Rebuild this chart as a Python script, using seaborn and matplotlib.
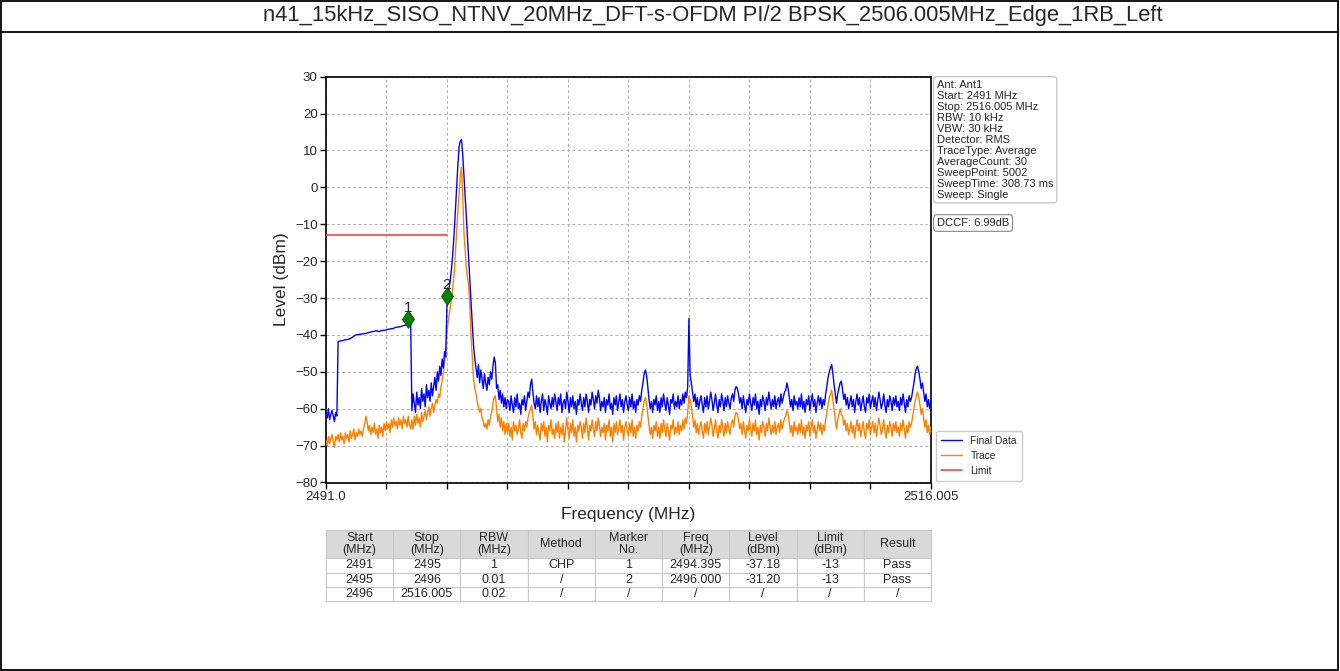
import numpy as np
import pandas as pd
import matplotlib
matplotlib.use("Agg")
import matplotlib.pyplot as plt
from matplotlib.transforms import offset_copy
from matplotlib.patches import Rectangle
from matplotlib.lines import Line2D
import seaborn as sns

# ---------------------------------------------------------------- data
title = "n41_15kHz_SISO_NTNV_20MHz_DFT-s-OFDM PI/2 BPSK_2506.005MHz_Edge_1RB_Left"

# sweep frequencies (MHz): 0.05 MHz steps plus the stop frequency
freq = list(np.round(np.arange(2491.0, 2516.0 + 1e-6, 0.05), 2)) + [2516.005]

# "Final Data" trace (dBm)
final_data = (
    # 2491.00 - 2491.45
    [-61, -62.5, -60, -63, -61.5, -60.5, -62, -63.5, -61, -62]
    # 2491.50 - 2494.50 (channel power part)
    + [-41.8, -41.7, -41.6, -41.6, -41.5, -41.4, -41.3, -41.3, -41.2, -41.1,
       -41.0, -40.8, -40.6, -40.3, -40.1, -40.0, -39.9, -39.9, -39.8, -39.8,
       -39.7, -39.7, -39.6, -39.6, -39.5, -39.4, -39.3, -39.2, -39.1, -39.1,
       -39.0, -38.9, -38.9, -39.0, -39.1, -38.9, -38.8, -38.8, -38.7, -38.7,
       -38.6, -38.5, -38.4, -38.4, -38.3, -38.3, -38.2, -38.0, -37.9, -37.9,
       -37.8, -37.8, -37.7, -37.6, -37.5, -37.4, -37.3, -37.3, -37.2, -37.1,
       -37.0]
    # 2494.55 - 2495.95
    + [-60.5, -56, -58.5, -61, -55.5, -59, -57, -60, -54.5, -58, -56, -59.5,
       -53.5, -57, -55, -58, -53, -56.5, -54, -51.5, -55, -50, -52.5, -48.5,
       -51, -46.5, -49, -44.5, -46]
    # 2496.00 - 2497.20 (carrier)
    + [-31.2, -29, -27, -24.5, -21, -17, -12, -6, 0, 6, 11, 12.5, 13, 9, 3.5,
       -2.5, -8, -14, -20, -26, -32, -37.5, -43, -46.5, -49]
    # 2497.25 - 2498.50
    + [-51.5, -48, -53, -49.5, -52, -54.5, -50.5, -53, -55, -51.5, -53.5, -50,
       -52, -48.5, -46, -47.5, -54.5, -53.5, -57.5, -55, -58.5, -56, -59.5,
       -57, -60, -57.5]
    # 2498.55 - 2516.00, 1 MHz per row
    + [-58, -60.5, -56.5, -59, -61, -57, -59.5, -56, -60, -58.5,
       -61.5, -57.5, -59, -56.5, -60.5, -58, -55.5, -57, -53.5, -52]
    + [-55.5, -58.5, -60, -56.5, -59.5, -57, -61, -58, -56, -60.5,
       -57.5, -59, -61.5, -56.5, -58.5, -60, -57, -59.5, -56, -58]
    + [-60.5, -57, -59, -56, -61, -58.5, -57.5, -60, -55.5, -58,
       -61, -57, -59.5, -56.5, -60, -58, -61.5, -57.5, -59, -56]
    + [-58.5, -60.5, -57, -59.5, -56, -58, -61, -57.5, -59, -55.5,
       -57.5, -60, -56.5, -58.5, -55, -57, -60.5, -58, -59.5, -57]
    + [-61, -57.5, -59, -56, -60, -58.5, -61.5, -57, -59, -56.5,
       -60.5, -58, -56, -59.5, -57.5, -61, -58, -56.5, -59, -60.5]
    + [-57, -59.5, -56, -60, -58, -61, -57.5, -59, -56.5, -58,
       -55, -53, -50.5, -49.5, -51, -54, -57.5, -60, -58, -61]
    + [-57.5, -59, -56.5, -60.5, -58, -61, -57, -59.5, -56, -58.5,
       -60.5, -57, -59, -61.5, -57.5, -58.5, -56, -60, -58, -59.5]
    + [-56.5, -60, -57.5, -59, -56, -58.5, -55.5, -57, -54, -35.5,
       -51, -53, -55.5, -58, -56, -59.5, -57, -60, -58, -56.5]
    + [-59, -61, -57, -59.5, -56.5, -60, -58, -55.5, -57.5, -60.5,
       -58.5, -56, -59, -61, -57.5, -59.5, -56, -58, -60.5, -57]
    + [-59.5, -56.5, -58.5, -60, -57, -56, -58, -55, -54, -54.5,
       -56, -58.5, -57, -60, -56.5, -59, -61, -57.5, -59, -56]
    + [-58.5, -60.5, -57, -59, -56, -60, -58, -61.5, -57.5, -59.5,
       -56.5, -58, -60.5, -57, -59, -55.5, -58, -60, -57.5, -59.5]
    + [-56.5, -60, -58, -57, -59.5, -56, -58.5, -57, -55.5, -55,
       -53, -54.5, -57, -59.5, -57.5, -60.5, -56.5, -59, -58, -60]
    + [-57, -59.5, -56, -60, -58, -61, -57.5, -59, -56.5, -60.5,
       -58, -56, -59.5, -57.5, -61, -58.5, -56.5, -59, -57, -60]
    + [-57.5, -59, -56, -54, -51.5, -50, -49, -48, -50.5, -53.5,
       -56, -58.5, -56, -54.5, -53, -52.5, -55, -57.5, -56, -59]
    + [-57, -60, -58.5, -56.5, -59.5, -57.5, -61, -58, -56, -59,
       -57, -60.5, -58.5, -56.5, -59.5, -61, -57, -58.5, -56, -60]
    + [-58, -56.5, -59.5, -57, -60.5, -58, -55.5, -57.5, -60, -58.5,
       -56, -59, -61, -57.5, -59.5, -56.5, -58, -60.5, -57, -59]
    + [-56.5, -59.5, -58, -60.5, -57, -59, -56, -58.5, -61, -57.5,
       -59.5, -56.5, -58, -57, -55, -53, -50.5, -49, -48.5, -50]
    + [-52, -54.5, -53, -55.5, -58, -56, -59.5, -57.5, -60, -58]
    # 2516.005
    + [-59]
)

# "Trace" (dBm)
trace = (
    # 2491.00 - 2494.50
    [-68.5, -70, -67.5, -69.5, -68, -67, -69, -70.5, -67.5, -68.5]
    + [-67, -69, -66.5, -68.5, -67.5, -69.5, -66.5, -68, -67, -69]
    + [-66, -68, -67, -65.5, -68.5, -66.5, -67.5, -65.5, -67, -66]
    + [-67.5, -65.5, -64, -62, -63.5, -66, -64.5, -67, -65, -66.5]
    + [-64, -67, -65.5, -68, -64.5, -66.5, -65, -67.5, -64, -66]
    + [-63.5, -65.5, -64, -66.5, -63, -65, -62.5, -64.5, -63.5, -65.5]
    + [-62.5, -64.5, -63, -65.5, -62, -64, -63, -65, -62, -64.5]
    + [-65.5]
    # 2494.55 - 2495.95
    + [-63, -65.5, -62, -64.5, -61.5, -64, -62.5, -65, -61, -63.5, -62, -60.5,
       -63, -61, -59.5, -62, -60, -58.5, -61, -59, -57.5, -58.5, -56, -57,
       -54, -52.5, -50, -47.5, -44]
    # 2496.00 - 2497.20 (carrier)
    + [-39, -36.5, -34, -32, -30, -26.5, -23, -17.5, -12, -6.5, -2, 3, 5.5, -2,
       -12, -17, -22, -24.5, -27, -33, -41, -46.5, -52, -54.5, -56]
    # 2497.25 - 2498.50
    + [-58, -59.5, -61, -60, -62.5, -63.5, -65, -64, -65.5, -63, -64.5, -62,
       -61, -58.5, -57, -56.5, -60, -63.5, -61.5, -65, -62.5, -66, -63.5, -67,
       -64, -66.5]
    # 2498.55 - 2516.00, 1 MHz per row
    + [-64, -67.5, -65, -68.5, -63.5, -66, -64.5, -67, -65.5, -63,
       -66.5, -68, -64, -66, -63.5, -65, -62.5, -61, -60, -59]
    + [-62, -65.5, -63.5, -67, -64.5, -66.5, -68.5, -64, -66, -63.5,
       -67.5, -65, -69, -64.5, -66, -63, -67, -65.5, -68, -64]
    + [-66.5, -63.5, -68, -65, -67, -64, -69, -66, -62.5, -65.5,
       -68, -64, -66.5, -63, -67.5, -65, -69, -64.5, -66, -63.5]
    + [-65, -68, -64, -66.5, -62.5, -65, -68.5, -64.5, -66, -63,
       -65.5, -67.5, -63.5, -66, -62.5, -64.5, -67.5, -65, -66.5, -64]
    + [-68.5, -64.5, -66, -63, -67.5, -65, -69, -64, -66.5, -63.5,
       -67, -65.5, -63, -66.5, -64.5, -68.5, -65, -63.5, -66, -67.5]
    + [-64, -66.5, -63, -67.5, -65, -68, -64.5, -66, -63.5, -65,
       -62, -60, -58, -57, -58.5, -61.5, -64.5, -67, -65, -68]
    + [-64.5, -66, -63.5, -67.5, -65, -68, -64, -66.5, -63, -65.5,
       -67.5, -64, -66, -68.5, -64.5, -65.5, -63, -67, -65, -66.5]
    + [-63.5, -67, -64.5, -66, -63, -65.5, -62.5, -64, -61, -56.5,
       -57.5, -59.5, -62, -65, -63, -66.5, -64, -67, -65, -63.5]
    + [-66, -68, -64, -66.5, -63.5, -67, -65, -62.5, -64.5, -67.5,
       -65.5, -63, -66, -68, -64.5, -66.5, -63, -65, -67.5, -64]
    + [-66.5, -63.5, -65.5, -67, -64, -63, -65, -62, -61, -61.5,
       -63, -65.5, -64, -67, -63.5, -66, -68, -64.5, -66, -63]
    + [-65.5, -67.5, -64, -66, -63, -67, -65, -68.5, -64.5, -66.5,
       -63.5, -65, -67.5, -64, -66, -62.5, -65, -67, -64.5, -66.5]
    + [-63.5, -67, -65, -64, -66.5, -63, -65.5, -64, -62.5, -62,
       -60.5, -61.5, -64, -66.5, -64.5, -67.5, -63.5, -66, -65, -67]
    + [-64, -66.5, -63, -67, -65, -68, -64.5, -66, -63.5, -67.5,
       -65, -63, -66.5, -64.5, -68, -65.5, -63.5, -66, -64, -67]
    + [-64.5, -66, -63, -61, -59, -57, -56, -55, -57.5, -60.5,
       -63, -65.5, -63, -61.5, -60, -61.5, -62, -64.5, -63, -66]
    + [-64, -67, -65.5, -63.5, -66.5, -64.5, -68, -65, -63, -66,
       -64, -67.5, -65.5, -63.5, -66.5, -68, -64, -65.5, -63, -67]
    + [-65, -63.5, -66.5, -64, -67.5, -65, -62.5, -64.5, -67, -65.5,
       -63, -66, -68, -64.5, -66.5, -63.5, -65, -67.5, -64, -66]
    + [-63.5, -66.5, -65, -67.5, -64, -66, -63, -65.5, -68, -64.5,
       -66.5, -63.5, -65, -64, -62, -60, -58, -56.5, -55.5, -57]
    + [-59, -61.5, -60, -62.5, -65, -63, -66.5, -64.5, -67, -65]
    # 2516.005
    + [-66]
)

assert len(freq) == len(final_data) == len(trace), (len(freq), len(final_data), len(trace))

# limit line
limit_freq = [2491.0, 2496.0]
limit_level = [-13, -13]

# markers
marker_no = [1, 2]
marker_freq = [2494.395, 2496.000]
marker_level = [-37.18, -31.20]

# axis ticks
x_ticks = [2491.0, 2493.5, 2496.0, 2498.5, 2501.0, 2503.5, 2506.0, 2508.5,
           2511.0, 2513.5, 2516.005]
x_tick_labels = ["2491.0"] + [""] * 9 + ["2516.005"]
y_ticks = [-80, -70, -60, -50, -40, -30, -20, -10, 0, 10, 20, 30]

# setup summary
info_lines = ["Ant: Ant1", "Start: 2491 MHz", "Stop: 2516.005 MHz", "RBW: 10 kHz",
              "VBW: 30 kHz", "Detector: RMS", "TraceType: Average",
              "AverageCount: 30", "SweepPoint: 5002", "SweepTime: 308.73 ms",
              "Sweep: Single"]
dccf_text = "DCCF: 6.99dB"

# result table
table_header = ["Start\n(MHz)", "Stop\n(MHz)", "RBW\n(MHz)", "Method", "Marker\nNo.",
                "Freq\n(MHz)", "Level\n(dBm)", "Limit\n(dBm)", "Result"]
table_rows = [
    ["2491", "2495", "1", "CHP", "1", "2494.395", "-37.18", "-13", "Pass"],
    ["2495", "2496", "0.01", "/", "2", "2496.000", "-31.20", "-13", "Pass"],
    ["2496", "2516.005", "0.02", "/", "/", "/", "/", "/", "/"],
]

# ---------------------------------------------------------------- style
sns.set_style("ticks")
plt.rcParams["font.family"] = ["Liberation Sans", "DejaVu Sans"]
plt.rcParams["axes.unicode_minus"] = True

W, H = 1340, 671
fig = plt.figure(figsize=(W / 100, H / 100), dpi=100)


def fx(px):
    return px / W


def fy(py):
    return 1 - py / H


# outer frame and title row
fig.add_artist(Rectangle((fx(1), fy(670)), fx(1337), 669 / H, transform=fig.transFigure,
                         fill=False, ec="black", lw=1.3))
fig.add_artist(Line2D([fx(1), fx(1338)], [fy(32), fy(32)], transform=fig.transFigure,
                      color="black", lw=1.3))
fig.text(fx(713), fy(16), title, ha="center", va="center", fontsize=15.8)

# ---------------------------------------------------------------- spectrum
left, right, top, bottom = 326, 931, 76.7, 482.5
ax = fig.add_axes([fx(left), fy(bottom), fx(right - left), (bottom - top) / H])

df = pd.DataFrame({"freq": freq, "Final Data": final_data, "Trace": trace})
sns.lineplot(data=df, x="freq", y="Trace", ax=ax, color="#ff8000", lw=1.0,
             estimator=None, sort=False, label="Trace", zorder=3)
sns.lineplot(data=df, x="freq", y="Final Data", ax=ax, color="#0000ff", lw=1.0,
             estimator=None, sort=False, label="Final Data", zorder=4)
sns.lineplot(x=limit_freq, y=limit_level, ax=ax, color="#ff3030", lw=1.1,
             estimator=None, label="Limit", zorder=5)

# markers sit with their lower tip on the measured level
mk_tr = offset_copy(ax.transData, fig=fig, x=0, y=6, units="dots")
ax.plot(marker_freq, marker_level, ls="none", marker="d", ms=9.5,
        color="#008000", mec="#005a00", mew=0.6, transform=mk_tr, zorder=6)
for n, f, lv in zip(marker_no, marker_freq, marker_level):
    ax.annotate(str(n), (f, lv), xytext=(0, 17), textcoords="offset pixels",
                ha="center", va="center", fontsize=11, zorder=7)

ax.set_xlim(2491.0, 2516.005)
ax.set_ylim(-80, 30)
ax.set_xticks(x_ticks)
ax.set_xticklabels(x_tick_labels)
ax.set_yticks(y_ticks)
ax.tick_params(labelsize=9.5, length=4, width=1, color="black", pad=2)
ax.grid(True, color="#b0b0b0", ls=(0, (3, 2.5)), lw=0.7)
ax.set_axisbelow(True)
for s in ax.spines.values():
    s.set_visible(True)
    s.set_color("black")
    s.set_linewidth(1.2)
ax.set_xlabel("Frequency (MHz)", fontsize=12.5, labelpad=3)
ax.set_ylabel("Level (dBm)", fontsize=12.5, labelpad=4)

handles, labels = ax.get_legend_handles_labels()
order = [labels.index("Final Data"), labels.index("Trace"), labels.index("Limit")]
ax.legend([handles[i] for i in order], [labels[i] for i in order],
          loc="lower left", bbox_to_anchor=(1.008, 0.004), borderaxespad=0,
          fontsize=7.3, handlelength=2.1, handletextpad=0.8, labelspacing=0.5,
          frameon=True, fancybox=True, edgecolor="#cccccc", framealpha=1,
          borderpad=0.5)

# setup summary boxes
fig.text(fx(937), fy(80), "\n".join(info_lines), ha="left", va="top", fontsize=8,
         linespacing=1.12,
         bbox=dict(boxstyle="round,pad=0.3", fc="white", ec="#bbbbbb", lw=0.8))
fig.text(fx(937), fy(223), dccf_text, ha="left", va="center", fontsize=8,
         bbox=dict(boxstyle="round,pad=0.3", fc="white", ec="#888888", lw=0.8))

# ---------------------------------------------------------------- result table
tax = fig.add_axes([fx(left), fy(601), fx(right - left), (601 - 530) / H])
tax.axis("off")
tbl = tax.table(cellText=table_rows, colLabels=table_header, cellLoc="center",
                bbox=[0, 0, 1, 1])
tbl.auto_set_font_size(False)
tbl.set_fontsize(9)
for (r, c), cell in tbl.get_celld().items():
    cell.set_edgecolor("#c8c8c8")
    cell.set_linewidth(0.8)
    cell.set_height(2.0 if r == 0 else 1.0)
    cell.PAD = 0.02
    if r == 0:
        cell.set_facecolor("#d9d9d9")
    cell.get_text().set_linespacing(0.95)

fig.savefig("out.png", dpi=100)
